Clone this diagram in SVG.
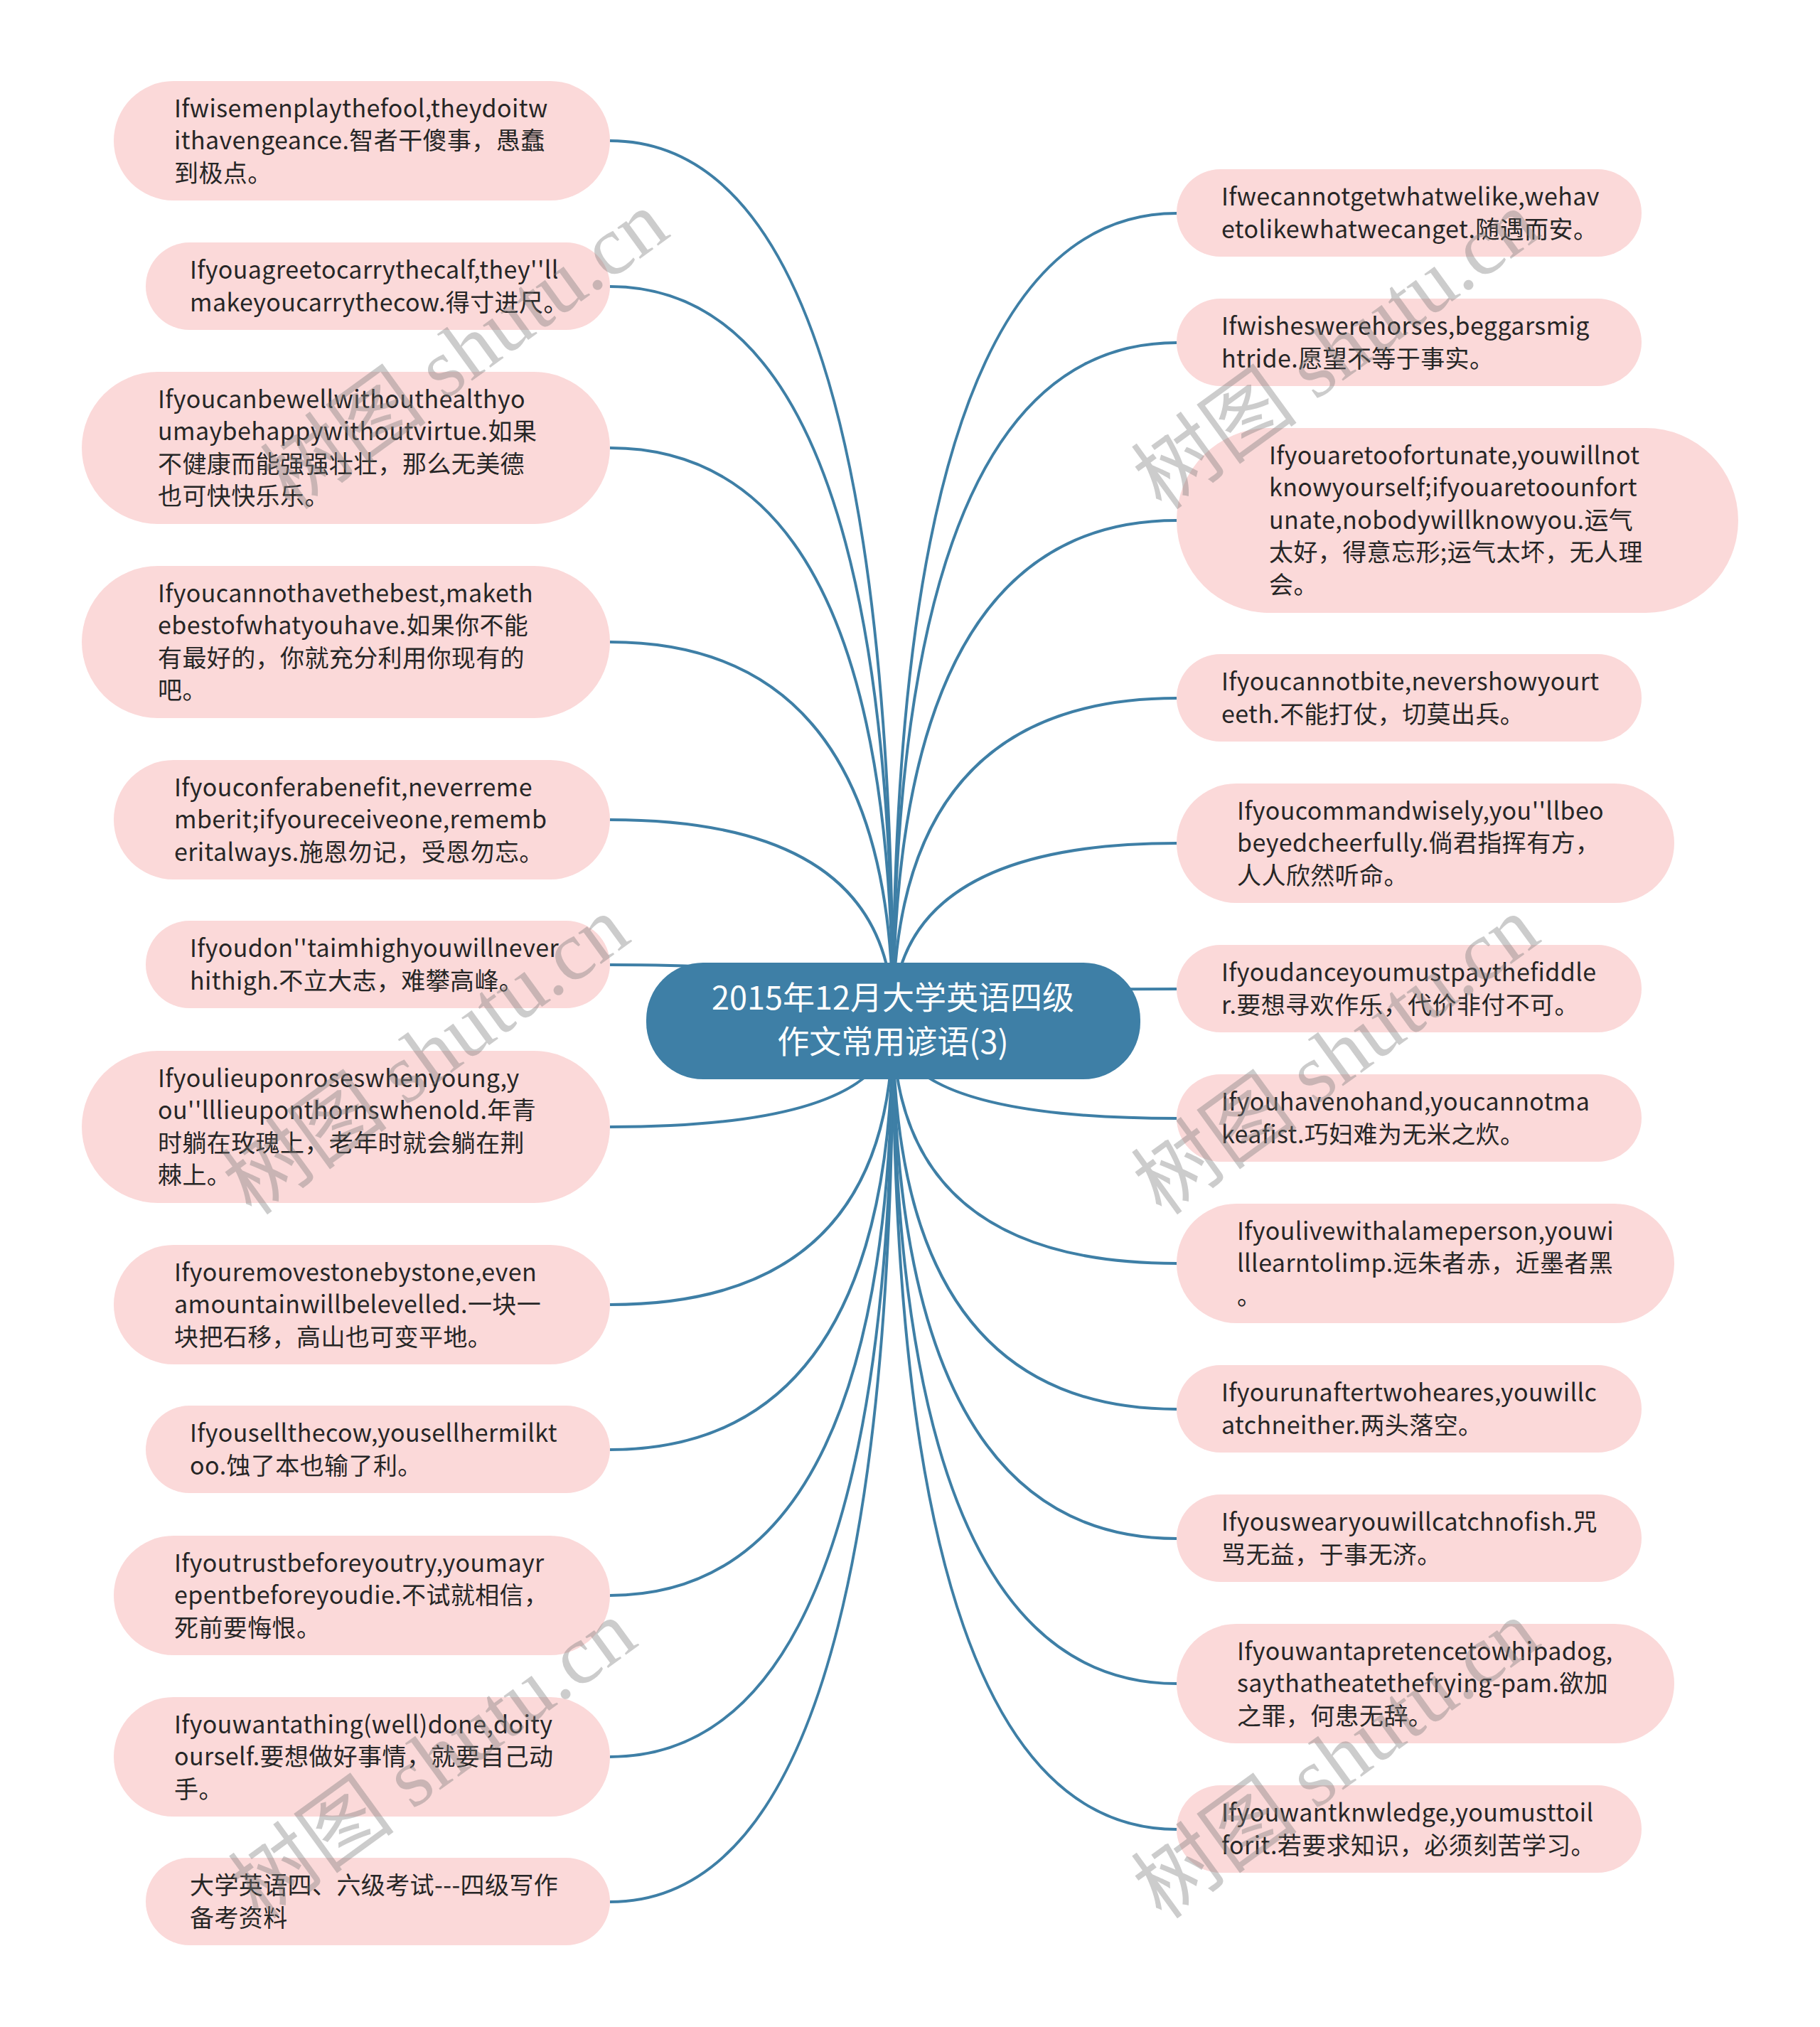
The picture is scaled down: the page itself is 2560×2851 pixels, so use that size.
<svg xmlns="http://www.w3.org/2000/svg" width="2560" height="2851" viewBox="0 0 2560 2851">
<style>
.n rect{fill:#fbd9d9}
.n text{font-family:"Noto Sans CJK SC","Noto Sans",sans-serif;font-size:34px;letter-spacing:0.4px;fill:#262626}
.c path{fill:none;stroke:#3e7fa6;stroke-width:4}
.root rect{fill:#3e7fa6}
.root text{font-family:"Noto Sans CJK SC","Noto Sans",sans-serif;font-size:45px;fill:#fff;text-anchor:middle}
.wm text{font-family:"Liberation Serif","Noto Sans CJK SC",serif;font-size:118px;fill:#7a7a7a;opacity:0.38}
</style>
<rect width="2560" height="2851" fill="#fff"/>
<g class="c" id="connectors">
<path d="M1256,1436 Q1256,198 858,198"/>
<path d="M1256,1436 Q1256,403 858,403"/>
<path d="M1256,1436 Q1256,630 858,630"/>
<path d="M1256,1436 Q1256,903 858,903"/>
<path d="M1256,1436 Q1256,1153 858,1153"/>
<path d="M1256,1436 Q1256,1357 858,1357"/>
<path d="M1256,1436 Q1256,1585 858,1585"/>
<path d="M1256,1436 Q1256,1835 858,1835"/>
<path d="M1256,1436 Q1256,2039 858,2039"/>
<path d="M1256,1436 Q1256,2244 858,2244"/>
<path d="M1256,1436 Q1256,2471 858,2471"/>
<path d="M1256,1436 Q1256,2675 858,2675"/>
<path d="M1256,1436 Q1256,300 1655,300"/>
<path d="M1256,1436 Q1256,482 1655,482"/>
<path d="M1256,1436 Q1256,732 1655,732"/>
<path d="M1256,1436 Q1256,982 1655,982"/>
<path d="M1256,1436 Q1256,1186 1655,1186"/>
<path d="M1256,1436 Q1256,1391 1655,1391"/>
<path d="M1256,1436 Q1256,1573 1655,1573"/>
<path d="M1256,1436 Q1256,1777 1655,1777"/>
<path d="M1256,1436 Q1256,1982 1655,1982"/>
<path d="M1256,1436 Q1256,2164 1655,2164"/>
<path d="M1256,1436 Q1256,2368 1655,2368"/>
<path d="M1256,1436 Q1256,2573 1655,2573"/>
</g>
<g class="root" id="root">
<rect x="909" y="1354" width="695" height="164" rx="80" ry="80"/>
<text x="1256" y="1420">2015年12月大学英语四级</text>
<text x="1256" y="1482">作文常用谚语(3)</text>
</g>
<g class="n" id="L1">
<rect x="160" y="114" width="698" height="168" rx="84"/>
<text x="245" y="165">Ifwisemenplaythefool,theydoitw</text>
<text x="245" y="210">ithavengeance.智者干傻事，愚蠢</text>
<text x="245" y="256">到极点。</text>
</g>
<g class="n" id="L2">
<rect x="205" y="341" width="653" height="123" rx="61.5"/>
<text x="267" y="392">Ifyouagreetocarrythecalf,they''ll</text>
<text x="267" y="438">makeyoucarrythecow.得寸进尺。</text>
</g>
<g class="n" id="L3">
<rect x="115" y="523" width="743" height="214" rx="107"/>
<text x="222" y="574">Ifyoucanbewellwithouthealthyo</text>
<text x="222" y="619">umaybehappywithoutvirtue.如果</text>
<text x="222" y="665">不健康而能强强壮壮，那么无美德</text>
<text x="222" y="710">也可快快乐乐。</text>
</g>
<g class="n" id="L4">
<rect x="115" y="796" width="743" height="214" rx="107"/>
<text x="222" y="847">Ifyoucannothavethebest,maketh</text>
<text x="222" y="892">ebestofwhatyouhave.如果你不能</text>
<text x="222" y="938">有最好的，你就充分利用你现有的</text>
<text x="222" y="983">吧。</text>
</g>
<g class="n" id="L5">
<rect x="160" y="1069" width="698" height="168" rx="84"/>
<text x="245" y="1120">Ifyouconferabenefit,neverreme</text>
<text x="245" y="1165">mberit;ifyoureceiveone,rememb</text>
<text x="245" y="1211">eritalways.施恩勿记，受恩勿忘。</text>
</g>
<g class="n" id="L6">
<rect x="205" y="1295" width="653" height="123" rx="61.5"/>
<text x="267" y="1346">Ifyoudon''taimhighyouwillnever</text>
<text x="267" y="1392">hithigh.不立大志，难攀高峰。</text>
</g>
<g class="n" id="L7">
<rect x="115" y="1478" width="743" height="214" rx="107"/>
<text x="222" y="1529">Ifyoulieuponroseswhenyoung,y</text>
<text x="222" y="1574">ou''lllieuponthornswhenold.年青</text>
<text x="222" y="1620">时躺在玫瑰上，老年时就会躺在荆</text>
<text x="222" y="1665">棘上。</text>
</g>
<g class="n" id="L8">
<rect x="160" y="1751" width="698" height="168" rx="84"/>
<text x="245" y="1802">Ifyouremovestonebystone,even</text>
<text x="245" y="1847">amountainwillbelevelled.一块一</text>
<text x="245" y="1893">块把石移，高山也可变平地。</text>
</g>
<g class="n" id="L9">
<rect x="205" y="1977" width="653" height="123" rx="61.5"/>
<text x="267" y="2028">Ifyousellthecow,yousellhermilkt</text>
<text x="267" y="2074">oo.蚀了本也输了利。</text>
</g>
<g class="n" id="L10">
<rect x="160" y="2160" width="698" height="168" rx="84"/>
<text x="245" y="2211">Ifyoutrustbeforeyoutry,youmayr</text>
<text x="245" y="2256">epentbeforeyoudie.不试就相信，</text>
<text x="245" y="2302">死前要悔恨。</text>
</g>
<g class="n" id="L11">
<rect x="160" y="2387" width="698" height="168" rx="84"/>
<text x="245" y="2438">Ifyouwantathing(well)done,doity</text>
<text x="245" y="2483">ourself.要想做好事情，就要自己动</text>
<text x="245" y="2529">手。</text>
</g>
<g class="n" id="L12">
<rect x="205" y="2613" width="653" height="123" rx="61.5"/>
<text x="267" y="2664">大学英语四、六级考试---四级写作</text>
<text x="267" y="2710">备考资料</text>
</g>
<g class="n" id="R1">
<rect x="1655" y="238" width="654" height="123" rx="61.5"/>
<text x="1718" y="289">Ifwecannotgetwhatwelike,wehav</text>
<text x="1718" y="335">etolikewhatwecanget.随遇而安。</text>
</g>
<g class="n" id="R2">
<rect x="1655" y="420" width="654" height="123" rx="61.5"/>
<text x="1718" y="471">Ifwisheswerehorses,beggarsmig</text>
<text x="1718" y="517">htride.愿望不等于事实。</text>
</g>
<g class="n" id="R3">
<rect x="1655" y="602" width="790" height="260" rx="130"/>
<text x="1785" y="653">Ifyouaretoofortunate,youwillnot</text>
<text x="1785" y="698">knowyourself;ifyouaretoounfort</text>
<text x="1785" y="744">unate,nobodywillknowyou.运气</text>
<text x="1785" y="789">太好，得意忘形;运气太坏，无人理</text>
<text x="1785" y="835">会。</text>
</g>
<g class="n" id="R4">
<rect x="1655" y="920" width="654" height="123" rx="61.5"/>
<text x="1718" y="971">Ifyoucannotbite,nevershowyourt</text>
<text x="1718" y="1017">eeth.不能打仗，切莫出兵。</text>
</g>
<g class="n" id="R5">
<rect x="1655" y="1102" width="700" height="168" rx="84"/>
<text x="1740" y="1153">Ifyoucommandwisely,you''llbeo</text>
<text x="1740" y="1198">beyedcheerfully.倘君指挥有方，</text>
<text x="1740" y="1244">人人欣然听命。</text>
</g>
<g class="n" id="R6">
<rect x="1655" y="1329" width="654" height="123" rx="61.5"/>
<text x="1718" y="1380">Ifyoudanceyoumustpaythefiddle</text>
<text x="1718" y="1426">r.要想寻欢作乐，代价非付不可。</text>
</g>
<g class="n" id="R7">
<rect x="1655" y="1511" width="654" height="123" rx="61.5"/>
<text x="1718" y="1562">Ifyouhavenohand,youcannotma</text>
<text x="1718" y="1608">keafist.巧妇难为无米之炊。</text>
</g>
<g class="n" id="R8">
<rect x="1655" y="1693" width="700" height="168" rx="84"/>
<text x="1740" y="1744">Ifyoulivewithalameperson,youwi</text>
<text x="1740" y="1789">lllearntolimp.远朱者赤，近墨者黑</text>
<text x="1740" y="1835">。</text>
</g>
<g class="n" id="R9">
<rect x="1655" y="1920" width="654" height="123" rx="61.5"/>
<text x="1718" y="1971">Ifyourunaftertwoheares,youwillc</text>
<text x="1718" y="2017">atchneither.两头落空。</text>
</g>
<g class="n" id="R10">
<rect x="1655" y="2102" width="654" height="123" rx="61.5"/>
<text x="1718" y="2153">Ifyouswearyouwillcatchnofish.咒</text>
<text x="1718" y="2199">骂无益，于事无济。</text>
</g>
<g class="n" id="R11">
<rect x="1655" y="2284" width="700" height="168" rx="84"/>
<text x="1740" y="2335">Ifyouwantapretencetowhipadog,</text>
<text x="1740" y="2380">saythatheatethefrying-pam.欲加</text>
<text x="1740" y="2426">之罪，何患无辞。</text>
</g>
<g class="n" id="R12">
<rect x="1655" y="2511" width="654" height="123" rx="61.5"/>
<text x="1718" y="2562">Ifyouwantknwledge,youmusttoil</text>
<text x="1718" y="2608">forit.若要求知识，必须刻苦学习。</text>
</g>
<g class="wm" id="watermarks">
<text transform="translate(410,720) rotate(-36)">树图 shutu.cn</text>
<text transform="translate(1635,720) rotate(-36)">树图 shutu.cn</text>
<text transform="translate(355,1712) rotate(-36)">树图 shutu.cn</text>
<text transform="translate(1635,1712) rotate(-36)">树图 shutu.cn</text>
<text transform="translate(365,2702) rotate(-36)">树图 shutu.cn</text>
<text transform="translate(1635,2702) rotate(-36)">树图 shutu.cn</text>
</g>
</svg>
